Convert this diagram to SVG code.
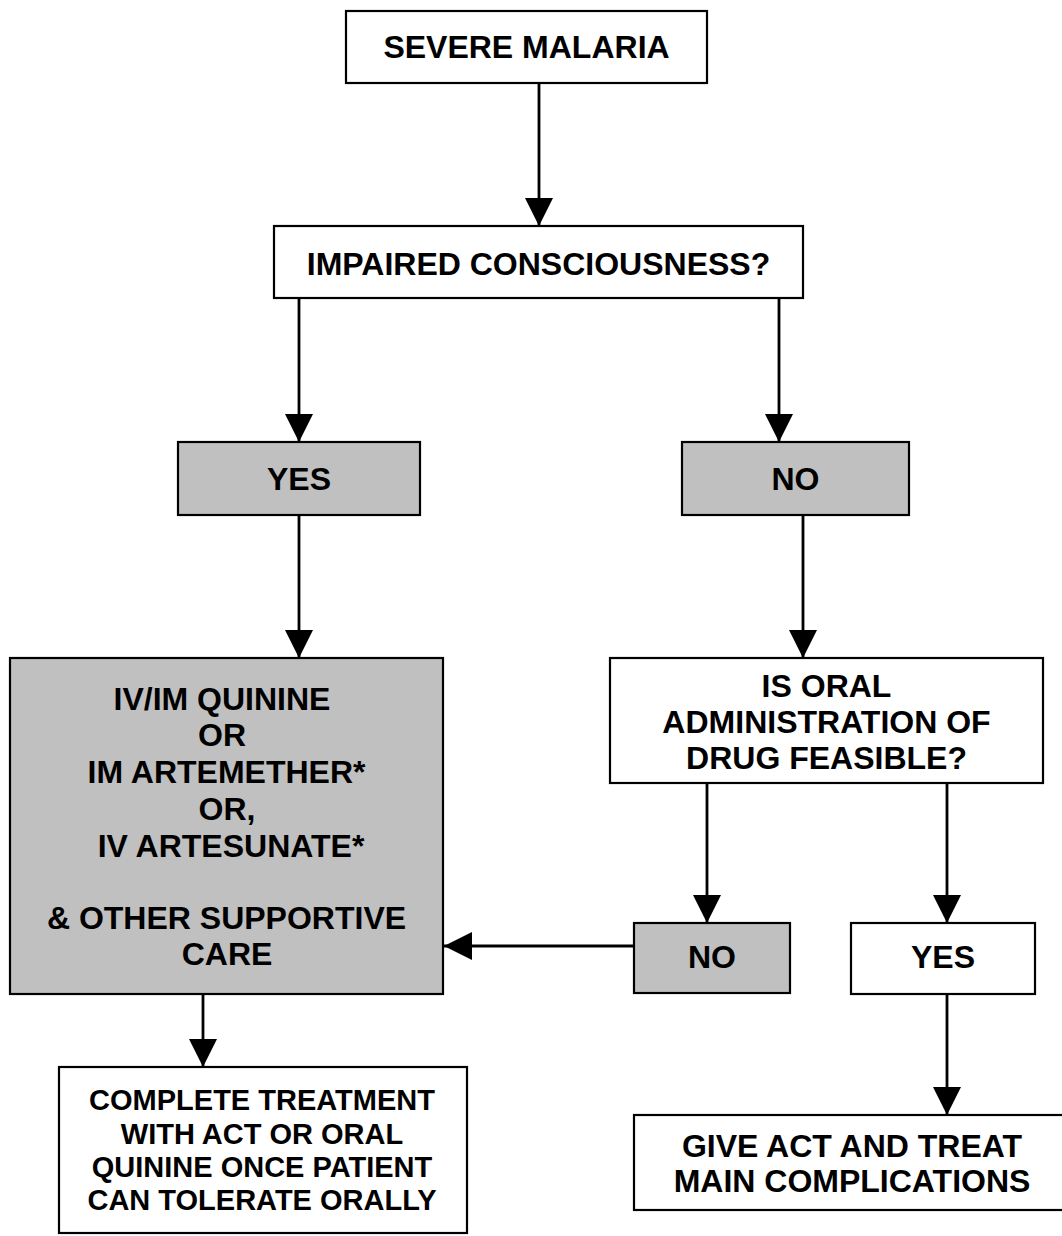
<svg xmlns="http://www.w3.org/2000/svg" width="1062" height="1236" viewBox="0 0 1062 1236">
<style>
.box{fill:#fff;stroke:#000;stroke-width:2.2}
.grey{fill:#c0c0c0;stroke:#000;stroke-width:2.2}
text{font-family:"Liberation Sans",Arial,sans-serif;font-weight:bold;font-size:32px;fill:#000;text-anchor:middle}
.sm{font-size:29px}
.conn line{stroke:#000;stroke-width:2.8}
</style>
<defs>
<marker id="ah" markerUnits="userSpaceOnUse" markerWidth="28" markerHeight="28" refX="27" refY="13.5" orient="auto" viewBox="0 0 27 27">
<path d="M0,0 L27,13.5 L0,27 z" fill="#000"/>
</marker>
</defs>
<rect width="1062" height="1236" fill="#fff"/>
<g id="connectors" class="conn">
<line x1="539" y1="83" x2="539" y2="226" marker-end="url(#ah)"/>
<line x1="299" y1="298" x2="299" y2="442" marker-end="url(#ah)"/>
<line x1="779" y1="298" x2="779" y2="442" marker-end="url(#ah)"/>
<line x1="299" y1="515" x2="299" y2="658" marker-end="url(#ah)"/>
<line x1="803" y1="515" x2="803" y2="658" marker-end="url(#ah)"/>
<line x1="707" y1="783" x2="707" y2="923" marker-end="url(#ah)"/>
<line x1="947" y1="783" x2="947" y2="923" marker-end="url(#ah)"/>
<line x1="634" y1="946" x2="444" y2="946" marker-end="url(#ah)"/>
<line x1="203" y1="994" x2="203" y2="1067" marker-end="url(#ah)"/>
<line x1="947" y1="994" x2="947" y2="1115" marker-end="url(#ah)"/>
</g>
<g id="severe">
<rect class="box" x="346" y="11" width="361" height="72"/>
<text x="526.5" y="58">SEVERE MALARIA</text>
</g>
<g id="impaired">
<rect class="box" x="274" y="226" width="529" height="72"/>
<text x="538.5" y="275">IMPAIRED CONSCIOUSNESS?</text>
</g>
<g id="yes1">
<rect class="grey" x="178" y="442" width="242" height="73"/>
<text x="299" y="490">YES</text>
</g>
<g id="no1">
<rect class="grey" x="682" y="442" width="227" height="73"/>
<text x="795.5" y="490">NO</text>
</g>
<g id="treatment">
<rect class="grey" x="10" y="658" width="433" height="336"/>
<text x="222" y="710">IV/IM QUININE</text>
<text x="222" y="746">OR</text>
<text x="226.5" y="783">IM ARTEMETHER*</text>
<text x="227" y="820">OR,</text>
<text x="231" y="857">IV ARTESUNATE*</text>
<text x="226.5" y="929">&amp; OTHER SUPPORTIVE</text>
<text x="227" y="965">CARE</text>
</g>
<g id="oral">
<rect class="box" x="610" y="658" width="433" height="125"/>
<text x="826.5" y="697">IS ORAL</text>
<text x="826.5" y="733">ADMINISTRATION OF</text>
<text x="826.5" y="769">DRUG FEASIBLE?</text>
</g>
<g id="no2">
<rect class="grey" x="634" y="923" width="156" height="70"/>
<text x="712" y="968">NO</text>
</g>
<g id="yes2">
<rect class="box" x="851" y="923" width="184" height="71"/>
<text x="943" y="968">YES</text>
</g>
<g id="complete">
<rect class="box" x="59" y="1067" width="408" height="166"/>
<text class="sm" x="262" y="1110">COMPLETE TREATMENT</text>
<text class="sm" x="262" y="1144">WITH ACT OR ORAL</text>
<text class="sm" x="262" y="1177">QUININE ONCE PATIENT</text>
<text class="sm" x="262" y="1210">CAN TOLERATE ORALLY</text>
</g>
<g id="giveact">
<rect class="box" x="634" y="1115" width="436" height="95"/>
<text x="852" y="1157">GIVE ACT AND TREAT</text>
<text x="852" y="1192">MAIN COMPLICATIONS</text>
</g>
</svg>
